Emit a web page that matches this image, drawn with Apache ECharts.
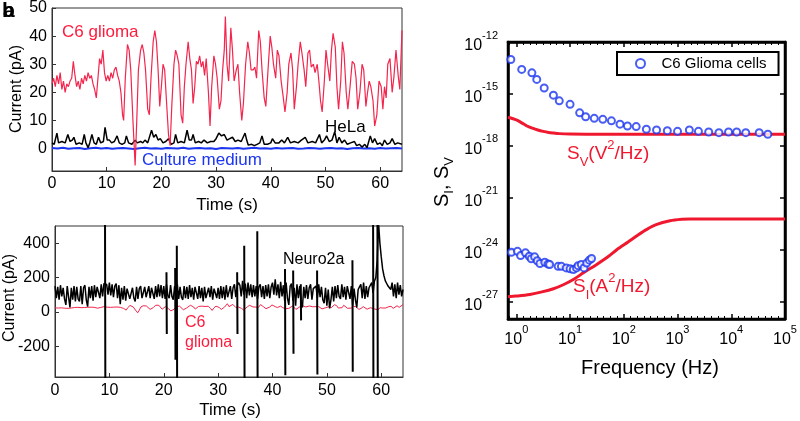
<!DOCTYPE html>
<html><head><meta charset="utf-8">
<script src="https://cdn.jsdelivr.net/npm/echarts@6/dist/echarts.min.js"></script>
<style>html,body{margin:0;padding:0;background:#fff}#c{width:800px;height:421px}</style>
</head><body><div id="c"></div>
<script>
// ---------- DATA ----------
// Top-left panel: current traces (time s, current pA)
const gliomaTrace = [[0,23],[0.3,25],[0.6,22],[0.9,26],[1.2,23],[1.5,27],[1.8,21],[2.1,24],[2.4,20],[2.7,23],[3.0,22],[3.3,24],[3.6,25],[3.9,31],[4.2,26],[4.5,22],[4.8,24],[5.1,21],[5.4,25],[5.7,23],[6.0,26],[6.3,24],[6.6,27],[6.9,25],[7.2,26],[7.5,23],[7.8,21],[8.1,18],[8.4,25],[8.7,32],[9.0,30],[9.3,35],[9.6,27],[9.9,24],[10.2,26],[10.5,24],[10.8,27],[11.1,25],[11.4,28],[11.7,29],[12.0,26],[12.3,24],[12.6,20],[12.9,12],[13.1,10],[13.4,25],[13.8,37],[14.1,35],[14.4,28],[14.8,10],[15.2,-6],[15.5,10],[15.8,28],[16.2,35],[16.5,37],[16.8,34],[17.1,28],[17.5,14],[17.8,12],[18.1,25],[18.5,38],[18.8,42],[19.1,38],[19.4,28],[19.7,15],[20.0,22],[20.3,30],[20.6,28],[20.9,18],[21.3,5],[21.6,1],[21.9,15],[22.3,30],[22.6,35],[22.9,33],[23.2,30],[23.6,12],[23.9,9],[24.2,22],[24.5,30],[24.9,38],[25.2,32],[25.5,28],[25.8,16],[26.1,22],[26.4,31],[26.7,30],[27.0,33],[27.3,29],[27.6,31],[27.9,26],[28.2,32],[28.6,20],[28.9,8],[29.2,22],[29.6,33],[29.9,30],[30.2,25],[30.6,14],[30.9,17],[31.2,28],[31.5,35],[31.7,47],[32.0,30],[32.3,24],[32.7,43],[33.0,35],[33.3,24],[33.7,28],[34.0,30],[34.3,20],[34.7,10],[35.0,16],[35.4,30],[35.8,38],[36.1,34],[36.4,28],[36.8,28],[37.1,29],[37.4,25],[37.8,42],[38.1,38],[38.4,28],[38.8,18],[39.1,15],[39.5,28],[39.9,40],[40.2,36],[40.5,30],[40.9,25],[41.2,35],[41.5,33],[41.9,24],[42.3,18],[42.6,13],[43.0,20],[43.3,30],[43.7,34],[44.0,28],[44.3,14],[44.7,22],[45.0,30],[45.4,38],[45.7,34],[46.1,28],[46.4,22],[46.8,34],[47.1,35],[47.4,29],[47.8,30],[48.1,27],[48.5,30],[48.8,24],[49.1,17],[49.4,13],[49.8,24],[50.1,35],[50.4,30],[50.8,24],[51.1,35],[51.4,41],[51.8,36],[52.1,22],[52.4,14],[52.8,24],[53.1,38],[53.4,34],[53.8,20],[54.1,14],[54.5,22],[54.9,31],[55.3,30],[55.6,25],[55.9,14],[56.3,20],[56.7,30],[57.0,28],[57.4,15],[57.7,20],[58.0,24],[58.3,22],[58.7,17],[59.0,8],[59.4,12],[59.8,24],[60.2,22],[60.5,14],[60.8,22],[61.1,18],[61.4,30],[61.8,32],[62.2,20],[62.5,25],[62.9,35],[63.3,26],[63.6,21],[64.0,42]];
const helaTrace = [[0,2],[0.4,1.5],[0.9,5.5],[1.2,2],[1.8,2.5],[2.4,2],[2.9,5],[3.3,2.5],[3.7,3],[4.0,4],[4.4,1.5],[5.0,2],[5.5,1.5],[5.9,5],[6.2,2],[6.6,0.3],[6.9,2],[7.3,5],[7.7,2],[8.1,1.5],[8.5,4],[8.9,2],[9.4,2.5],[9.7,7.5],[10.1,3],[10.5,3],[10.9,2],[11.4,2.5],[11.9,4.5],[12.3,2],[12.8,1.5],[13.3,2],[13.6,4.5],[14.0,2],[14.6,1.5],[15.2,3],[15.6,2],[16.2,2.5],[16.6,2],[17.0,3],[17.5,2],[18.2,6.5],[18.6,4],[19.0,5],[19.4,3],[19.8,3.5],[20.3,2],[20.8,2.5],[21.3,3.5],[21.8,1.5],[22.3,2],[22.6,5],[23.0,2],[23.6,2.5],[24.2,2],[24.7,6.5],[25.1,3],[25.5,3],[25.8,5],[26.2,2],[26.8,2.5],[27.3,2],[27.8,3],[28.4,2],[29.0,2.5],[29.6,2.5],[30.0,3.5],[30.5,5.5],[31.0,4.5],[31.5,5],[32.0,3],[32.5,3.5],[33.0,4],[33.5,2.5],[34.0,3],[34.6,2.5],[35.3,5.5],[35.6,3],[35.9,1.2],[36.5,1.5],[37.0,1],[37.5,1.5],[38.0,2],[38.4,4.5],[38.8,1.5],[39.4,1.5],[40.0,2],[40.3,3.5],[40.8,2],[41.5,2],[42.0,3],[42.5,2],[43.1,4],[43.6,2],[44.3,2.5],[45.0,2],[45.6,3],[46.3,4],[46.8,2],[47.6,2.5],[48.2,2],[48.9,5],[49.3,2],[49.8,3],[50.2,4.5],[50.7,2.5],[51.2,3],[51.7,6],[52.1,2],[52.5,4],[53.0,2],[53.5,3],[54.0,1.5],[54.6,2],[55.3,2.5],[55.7,1],[56.2,1.5],[56.7,0.5],[57.2,1.5],[57.6,0.3],[58.2,4.5],[58.6,2],[59.0,3.5],[59.5,1.5],[60.0,2],[60.4,1],[60.8,3],[61.3,1.5],[61.8,2],[62.2,3.5],[62.7,1.5],[63.2,2],[63.5,2],[64,1.5]];
const mediumStep = 1; // s between samples
const mediumValues = [0.2,0.0,0.3,-0.1,0.1,0.2,-0.2,0.1,0.3,0.0,0.2,-0.1,0.1,0.2,0.0,-0.2,0.1,0.3,0.0,0.1,-0.1,0.2,0.1,0.0,0.3,-0.1,0.1,0.2,0.0,0.1,-0.2,0.2,0.1,0.0,0.2,-0.1,0.1,0.3,0.0,0.1,-0.1,0.2,0.0,0.1,0.2,-0.1,0.0,0.2,0.1,-0.1,0.1,0.2,0.0,0.1,-0.2,0.1,0.2,0.0,0.1,-0.1,0.2,0.0,0.1,0.2,0.0];

// Bottom-left panel: Neuro2a baseline (0.25 s steps) and spikes [t, top, bottom]
const neuroStep = 0.25;
const neuroValues = [
150,80,145,70,155,90,140,75, 40,150,85,25,140,70,150,60,
145,75,60,150,45,140,155,70, 30,145,80,150,65,155,85,145,
150,80,160,90,165,175,160,100, 170,95,160,85,150,165,80,155,
45,140,70,150,65,135,145,75, 70,140,80,60,145,75,135,150,
80,70,145,85,75,150,80,140, 145,75,150,85,160,90,155,80,
150,75,160,95,80,155,90,70, 150,80,160,75,145,85,70,150,
80,145,75,155,85,140,70,145, 135,75,150,80,140,60,145,80,
75,140,85,150,70,135,145,80, 140,75,150,80,145,70,155,85,
80,150,75,140,160,85,150,170, 155,90,180,100,165,80,170,95,
160,85,155,90,150,75,145,160, 85,150,75,155,90,160,80,145,
170,100,190,95,160,80,175,90, 155,60,170,80,40,150,165,65,
140,35,160,80,150,60,25,145, 80,155,75,140,160,70,135,145,
150,80,160,85,145,70,50,140, 35,130,20,70,145,60,150,80,
155,90,75,160,85,145,70,150, 140,75,150,35,135,70,25,130,
145,160,80,170,75,150,85,140, 150,170,110,180,200,300,520,400,
320,250,210,180,165,150,160,130, 170,90,160,80,170,100,155,90,
130];
const neuroSpikes = [[9.2,520,-420],[20.5,230,-130],[22.1,255,-280],[22.4,385,-420],[33.5,230,-130],[34.8,385,-420],[37.2,470,-420],[42.3,250,-370],[43.8,240,-245],[45.2,160,-50],[48.2,240,-365],[54.7,300,-350],[58.5,520,-420],[59.3,520,-420]];

// Right panel: noise spectra (frequency Hz)
const svModelFreq = [0.7,1,1.26,1.58,2,2.51,3.16,3.98,5,6.31,10,20,100000];
const svModelVal  = [4.5e-17,3.16e-17,2.14e-17,1.41e-17,1.05e-17,8.3e-18,6.9e-18,6.0e-18,5.5e-18,5.1e-18,4.8e-18,4.7e-18,4.7e-18];
const siModelFreq = [0.7,1,1.78,3,4.9,7.5,11.5,18,30.9,50,74,120,190,263,400,724,1200,1700,3000,100000];
const siModelVal  = [1.9e-27,2.1e-27,2.63e-27,3.7e-27,5.6e-27,9.5e-27,1.9e-26,4.8e-26,1.38e-25,3.8e-25,1.0e-24,2.8e-24,7.6e-24,1.45e-23,2.8e-23,4.7e-23,5.75e-23,6.0e-23,6.0e-23,6.0e-23];
const svDataFreq = [0.79,1.26,1.95,2.4,3.3,4.9,6.3,10,15.1,19.5,28.2,40.7,58.9,85,117,170,263,407,646,1000,1660,2450,3800,5890,8900,12600,18600,33100,47900];
const svDataVal  = [9.8e-14,2.6e-14,1.66e-14,6.9e-15,2.2e-15,8.5e-16,4.0e-16,2.5e-16,8.1e-17,4.8e-17,3.9e-17,3.4e-17,2.8e-17,1.8e-17,1.4e-17,1.3e-17,9.1e-18,8.3e-18,7.6e-18,6.9e-18,8.3e-18,6.9e-18,6.3e-18,5.8e-18,6.3e-18,6.3e-18,5.8e-18,5.8e-18,4.7e-18];
const siDataFreq = [0.81,1.05,1.2,1.48,1.74,1.9,2.19,2.45,2.75,3.39,3.9,4.17,6.0,6.9,8.5,10,11.5,13.2,14.1,16.2,18.2,20.4,22.9,25.1];
const siDataVal  = [7.1e-25,8.1e-25,4.6e-25,6.6e-25,4.2e-25,3.0e-25,3.9e-25,2.3e-25,1.6e-25,1.9e-25,1.5e-25,1.4e-25,1.1e-25,1.1e-25,8.9e-26,7.9e-26,7.2e-26,8.9e-26,1.2e-25,1.4e-25,8.9e-26,1.7e-25,2.5e-25,3.1e-25];
const freqRange = [0.7, 1e5];
const spectrumRange = [1e-28, 1e-12];

// ---------- BUILD ----------
const FONT = '"Liberation Sans", Arial, sans-serif';
const RED = '#f0182f', PINK = '#f4254d', BLUE = '#1b35f0';
const lg = Math.log10;
const pairsLog = (fs, vs) => fs.map((f, i) => [lg(f), lg(vs[i])]);
const mediumData = mediumValues.map((v, i) => [i * mediumStep, v]);
const neuroData = neuroValues.map((v, i) => [i * neuroStep, v]);
const spikeData = [];
neuroSpikes.forEach(s => { spikeData.push([s[0], s[1]], [s[0] + 0.06, s[2]], [s[0] + 0.12, null]); });

const tickLbl = {fontSize: 16, color: '#000', fontFamily: FONT};
const supRich = {
  b: {fontSize: 16, fontFamily: FONT, color: '#000', lineHeight: 24, verticalAlign: 'bottom'},
  s: {fontSize: 11, fontFamily: FONT, color: '#000', lineHeight: 12, verticalAlign: 'top'}
};
const powFmt = v => (Math.abs(v - Math.round(v)) < 1e-9) ? '{b|10}{s|' + Math.round(v) + '}' : '';
const lineGray = {onZero: false, lineStyle: {color: '#333'}};
const lineBlack = {show: true, onZero: false, lineStyle: {color: '#000', width: 2.5}};

const chart = echarts.init(document.getElementById('c'), null, {renderer: 'canvas'});
chart.setOption({
  animation: false,
  backgroundColor: '#fff',
  grid: [
    {left: 52, top: 8, width: 350, height: 163, show: true, borderColor: '#333', borderWidth: 1},
    {left: 55, top: 226, width: 348, height: 151, show: true, borderColor: '#333', borderWidth: 1},
    {left: 508, top: 42, width: 277, height: 277, show: true, borderColor: '#000', borderWidth: 2.5}
  ],
  xAxis: [
    {gridIndex: 0, type: 'value', min: 0, max: 64, minInterval: 10, maxInterval: 10,
     axisLine: lineGray, axisTick: {inside: true, length: 4, lineStyle: {color: '#333'}},
     axisLabel: Object.assign({margin: 5, showMaxLabel: false}, tickLbl), splitLine: {show: false}},
    {gridIndex: 1, type: 'value', min: 0, max: 64, minInterval: 10, maxInterval: 10,
     axisLine: lineGray, axisTick: {inside: true, length: 4, lineStyle: {color: '#333'}},
     axisLabel: Object.assign({margin: 6, showMaxLabel: false}, tickLbl), splitLine: {show: false}},
    {gridIndex: 2, type: 'value', min: lg(freqRange[0]), max: lg(freqRange[1]), minInterval: 1, maxInterval: 1,
     axisLine: lineBlack, axisTick: {inside: true, length: 5, lineStyle: {color: '#000', width: 1.5}},
     minorTick: {show: true, splitNumber: 8, length: 3, lineStyle: {color: '#000'}},
     axisLabel: {margin: 5, formatter: powFmt, rich: supRich, showMinLabel: false}, splitLine: {show: false}},
    {gridIndex: 2, type: 'value', position: 'top', min: lg(freqRange[0]), max: lg(freqRange[1]), minInterval: 1, maxInterval: 1,
     axisLine: lineBlack, axisTick: {inside: true, length: 5, lineStyle: {color: '#000', width: 1.5}},
     minorTick: {show: true, splitNumber: 8, length: 3, lineStyle: {color: '#000'}},
     axisLabel: {show: false}, splitLine: {show: false}}
  ],
  yAxis: [
    {gridIndex: 0, type: 'value', min: -8, max: 50, minInterval: 10, maxInterval: 10,
     axisLine: Object.assign({show: true}, lineGray), axisTick: {show: true, inside: true, length: 4, lineStyle: {color: '#333'}},
     axisLabel: Object.assign({margin: 5, showMinLabel: false}, tickLbl), splitLine: {show: false}},
    {gridIndex: 1, type: 'value', min: -380, max: 500, minInterval: 200, maxInterval: 200,
     axisLine: Object.assign({show: true}, lineGray), axisTick: {show: true, inside: true, length: 4, lineStyle: {color: '#333'}},
     axisLabel: Object.assign({margin: 5, showMinLabel: false, showMaxLabel: false}, tickLbl), splitLine: {show: false}},
    {gridIndex: 2, type: 'value', min: lg(spectrumRange[0]), max: lg(spectrumRange[1]), minInterval: 3, maxInterval: 3,
     axisLine: lineBlack, axisTick: {show: true, inside: true, length: 5, lineStyle: {color: '#000', width: 1.5}},
     axisLabel: {margin: 10, formatter: powFmt, rich: supRich, showMinLabel: false}, splitLine: {show: false}},
    {gridIndex: 2, type: 'value', position: 'right', min: lg(spectrumRange[0]), max: lg(spectrumRange[1]), minInterval: 3, maxInterval: 3,
     axisLine: lineBlack, axisTick: {show: true, inside: true, length: 5, lineStyle: {color: '#000', width: 1.5}},
     axisLabel: {show: false}, splitLine: {show: false}}
  ],
  legend: {
    data: ['C6 Glioma cells'], left: 617, top: 52, selectedMode: false,
    borderColor: '#000', borderWidth: 2, padding: [4, 12, 4, 18], itemWidth: 32, itemHeight: 9,
    textStyle: {fontSize: 15, fontFamily: FONT, color: '#000'}
  },
  series: [
    {type: 'line', xAxisIndex: 0, yAxisIndex: 0, data: mediumData, symbol: 'none', lineStyle: {color: BLUE, width: 2}, z: 2},
    {type: 'line', xAxisIndex: 0, yAxisIndex: 0, data: helaTrace, symbol: 'none', lineStyle: {color: '#000', width: 1.5}, z: 3},
    {type: 'line', xAxisIndex: 0, yAxisIndex: 0, data: gliomaTrace, symbol: 'none', lineStyle: {color: PINK, width: 1.2}, z: 4},
    {type: 'line', xAxisIndex: 1, yAxisIndex: 1, data: gliomaTrace, symbol: 'none', lineStyle: {color: PINK, width: 1}, z: 2},
    {type: 'line', xAxisIndex: 1, yAxisIndex: 1, data: neuroData, symbol: 'none', lineStyle: {color: '#000', width: 1.5}, z: 3},
    {type: 'line', xAxisIndex: 1, yAxisIndex: 1, data: spikeData, symbol: 'none', connectNulls: false, lineStyle: {color: '#000', width: 2}, z: 4},
    {type: 'line', xAxisIndex: 2, yAxisIndex: 2, data: pairsLog(svModelFreq, svModelVal), symbol: 'none', smooth: 0.3, lineStyle: {color: RED, width: 3}, z: 2},
    {type: 'line', xAxisIndex: 2, yAxisIndex: 2, data: pairsLog(siModelFreq, siModelVal), symbol: 'none', smooth: 0.3, lineStyle: {color: RED, width: 3}, z: 2},
    {name: 'C6 Glioma cells', type: 'scatter', xAxisIndex: 2, yAxisIndex: 2, data: pairsLog(svDataFreq, svDataVal), symbol: 'emptyCircle', symbolSize: 7, itemStyle: {color: BLUE, borderWidth: 1.5}, z: 3},
    {name: 'C6 Glioma cells', type: 'scatter', xAxisIndex: 2, yAxisIndex: 2, data: pairsLog(siDataFreq, siDataVal), symbol: 'emptyCircle', symbolSize: 7, itemStyle: {color: BLUE, borderWidth: 1.5}, z: 3}
  ],
  graphic: [
    {type: 'text', x: 2, y: 1, style: {text: 'b', font: 'bold 21px ' + FONT, fill: '#000'}},
    {type: 'text', x: 3, y: 1, style: {text: 'a', font: 'bold 21px ' + FONT, fill: '#000'}},
    {type: 'text', x: 62, y: 32, style: {text: 'C6 glioma', font: '17px ' + FONT, fill: '#ff1a3c', align: 'left', verticalAlign: 'middle', textAlign: 'left', textVerticalAlign: 'middle'}},
    {type: 'text', x: 325, y: 127, style: {text: 'HeLa', font: '17px ' + FONT, fill: '#000', align: 'left', verticalAlign: 'middle', textAlign: 'left', textVerticalAlign: 'middle'}},
    {type: 'text', x: 142, y: 160, style: {text: 'Culture medium', font: '17px ' + FONT, fill: BLUE, align: 'left', verticalAlign: 'middle', textAlign: 'left', textVerticalAlign: 'middle'}},
    {type: 'text', x: 227, y: 205, style: {text: 'Time (s)', font: '17px ' + FONT, fill: '#000', align: 'center', verticalAlign: 'middle', textAlign: 'center', textVerticalAlign: 'middle'}},
    {type: 'text', x: 17, y: 89, rotation: Math.PI / 2, style: {text: 'Current (pA)', font: '16px ' + FONT, fill: '#000', align: 'center', verticalAlign: 'middle', textAlign: 'center', textVerticalAlign: 'middle'}},
    {type: 'text', x: 10, y: 298, rotation: Math.PI / 2, style: {text: 'Current (pA)', font: '16px ' + FONT, fill: '#000', align: 'center', verticalAlign: 'middle', textAlign: 'center', textVerticalAlign: 'middle'}},
    {type: 'text', x: 230, y: 410, style: {text: 'Time (s)', font: '17px ' + FONT, fill: '#000', align: 'center', verticalAlign: 'middle', textAlign: 'center', textVerticalAlign: 'middle'}},
    {type: 'text', x: 283, y: 260, style: {text: 'Neuro2a', font: '16px ' + FONT, fill: '#000', align: 'left', verticalAlign: 'middle', textAlign: 'left', textVerticalAlign: 'middle'}},
    {type: 'text', x: 185, y: 323, style: {text: 'C6', font: '16px ' + FONT, fill: '#ff1a3c', align: 'left', verticalAlign: 'middle', textAlign: 'left', textVerticalAlign: 'middle'}},
    {type: 'text', x: 185, y: 343, style: {text: 'glioma', font: '16px ' + FONT, fill: '#ff1a3c', align: 'left', verticalAlign: 'middle', textAlign: 'left', textVerticalAlign: 'middle'}},
    {type: 'text', x: 650, y: 368, style: {text: 'Frequency (Hz)', font: '20px ' + FONT, fill: '#000', align: 'center', verticalAlign: 'middle', textAlign: 'center', textVerticalAlign: 'middle'}},
    {type: 'text', x: 442, y: 182, rotation: Math.PI / 2, style: {text: '{m|S}{sub|I}{m|, S}{sub|V}', align: 'center', verticalAlign: 'middle', textAlign: 'center', textVerticalAlign: 'middle',
      rich: {m: {fontSize: 20, fontFamily: FONT, fill: '#000', color: '#000', lineHeight: 28, verticalAlign: 'middle'}, sub: {fontSize: 13, fontFamily: FONT, fill: '#000', color: '#000', lineHeight: 14, verticalAlign: 'bottom'}}}},
    {type: 'text', x: 567, y: 154, style: {text: '{m|S}{sub|V}{m|(V}{sup|2}{m|/Hz)}', align: 'left', verticalAlign: 'middle', textAlign: 'left', textVerticalAlign: 'middle',
      rich: {m: {fontSize: 19, fontFamily: FONT, fill: RED, color: RED, lineHeight: 30, verticalAlign: 'middle'}, sub: {fontSize: 13, fontFamily: FONT, fill: RED, color: RED, lineHeight: 14, verticalAlign: 'bottom'}, sup: {fontSize: 13, fontFamily: FONT, fill: RED, color: RED, lineHeight: 14, verticalAlign: 'top'}}}},
    {type: 'text', x: 573, y: 287, style: {text: '{m|S}{sub|I}{m|(A}{sup|2}{m|/Hz)}', align: 'left', verticalAlign: 'middle', textAlign: 'left', textVerticalAlign: 'middle',
      rich: {m: {fontSize: 19, fontFamily: FONT, fill: RED, color: RED, lineHeight: 30, verticalAlign: 'middle'}, sub: {fontSize: 13, fontFamily: FONT, fill: RED, color: RED, lineHeight: 14, verticalAlign: 'bottom'}, sup: {fontSize: 13, fontFamily: FONT, fill: RED, color: RED, lineHeight: 14, verticalAlign: 'top'}}}}
  ]
});
</script></body></html>
